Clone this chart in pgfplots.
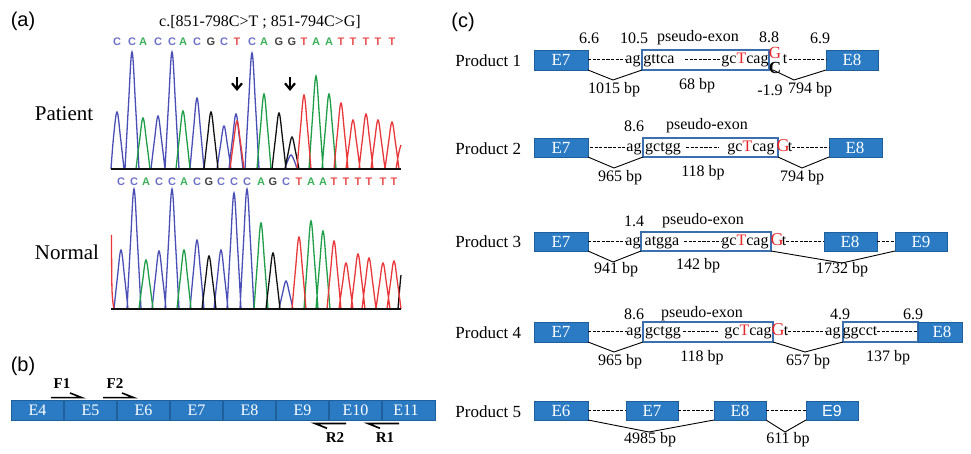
\documentclass[border=0pt]{standalone}
\usepackage{fontspec}
\setmainfont{Liberation Serif}
\newfontfamily\arial{Liberation Sans}
\usepackage{pgfplots}
\pgfplotsset{compat=1.18}
\usetikzlibrary{arrows.meta}
\definecolor{exblue}{HTML}{2B7BC4}
\definecolor{exedge}{HTML}{1F5F9C}
\definecolor{pbox}{HTML}{3C6FAE}
\definecolor{trC}{HTML}{4A4FB5}
\definecolor{trA}{HTML}{1E9E48}
\definecolor{trG}{HTML}{111111}
\definecolor{trT}{HTML}{E8383A}
\definecolor{ltC}{HTML}{6C70C8}
\definecolor{ltA}{HTML}{3CB05A}
\definecolor{ltG}{HTML}{444444}
\definecolor{ltT}{HTML}{E85050}
\definecolor{mutred}{HTML}{E8262A}
\newcommand\fs[1]{\fontsize{#1}{#1}\selectfont}
\newcommand\sq[2]{\node[font=\arial\fs{5.5}\bfseries, text=#2] at #1}

\begin{document}
\begin{tikzpicture}
\begin{axis}[
  scale only axis, width=485.5pt, height=224.5pt,
  xmin=0, xmax=971, ymin=0, ymax=449, y dir=reverse,
  hide axis, clip=false, unbounded coords=jump,
  exon/.style={fill=exblue, draw=exedge, line width=0.4pt},
  pseudo/.style={fill=white, draw=pbox, line width=0.6pt},
  dash/.style={black, line width=0.5pt, dash pattern=on 1.6pt off 0.7pt},
  vline/.style={black, line width=0.45pt},
  trace/.style={line width=0.65pt, smooth, tension=0.6},
]
\addplot[draw=none] coordinates {(0,0) (971,449)};

% ---------------- (a) chromatograms ----------------
\node[font=\arial\fs{10}] at (23,21) {(a)};
\node[font=\fs{8}] at (260,22) {c.[851-798C>T ; 851-794C>G]};
\node[font=\fs{10.5}] at (64,114) {Patient};
\node[font=\fs{10.5}] at (67,252) {Normal};

% patient, baseline y=169
\addplot[trace, trC] coordinates {
 (111,169) (113.5,137.6) (117,112) (120.5,137.6) (124,169) (0,nan)
 (125,169) (128.5,104.6) (132,52) (135.5,104.6) (139,169) (0,nan)
 (151,169) (154.5,139.8) (158,116) (161.5,139.8) (165,169) (0,nan)
 (165,169) (168.5,104.6) (172,52) (175.5,104.6) (179,169) (0,nan)
 (190,169) (193.5,130) (197,98) (200.5,130) (204,169) (0,nan)
 (217,169) (220.5,145.3) (224,126) (227.5,145.3) (231,169) (0,nan)
 (229,169) (232.5,138.7) (236,114) (239.5,138.7) (243,169) (0,nan)
 (245,169) (248.5,105.2) (252,53) (255.5,105.2) (259,169) (0,nan)
 (285,169) (287.5,161.3) (291,155) (294.5,161.3) (297,169)};
\addplot[trace, trA] coordinates {
 (136,169) (139.5,141) (143,118) (146.5,141) (150,169) (0,nan)
 (176,169) (179.5,137.1) (183,111) (186.5,137.1) (190,169) (0,nan)
 (257,169) (260.5,127.7) (264,94) (267.5,127.7) (271,169) (0,nan)
 (309,169) (312.5,117.8) (316,76) (319.5,117.8) (323,169) (0,nan)
 (322,169) (325.5,127.7) (329,94) (332.5,127.7) (336,169)};
\addplot[trace, trG] coordinates {
 (204,169) (207.5,137.6) (211,112) (214.5,137.6) (218,169) (0,nan)
 (272,169) (275.5,138.2) (279,113) (282.5,138.2) (286,169) (0,nan)
 (285,169) (288.5,151.4) (292,137) (295.5,151.4) (299,169)};
\addplot[trace, trT] coordinates {
 (230,169) (233.5,142.6) (237,121) (240.5,142.6) (244,169) (0,nan)
 (297,169) (300.5,128.3) (304,95) (307.5,128.3) (311,169) (0,nan)
 (334,169) (337.5,132.7) (341,103) (344.5,132.7) (348,169) (0,nan)
 (346,169) (349.5,142) (353,120) (356.5,142) (360,169) (0,nan)
 (359,169) (362.5,138.7) (366,114) (369.5,138.7) (373,169) (0,nan)
 (371,169) (374.5,142) (378,120) (381.5,142) (385,169) (0,nan)
 (385,169) (388.5,143.1) (392,122) (395.5,143.1) (399,169) (0,nan)
 (396,169) (399,152) (401,145)};
\addplot[trG, line width=1pt] coordinates {(111,169.5) (401,169.5)};

% normal, baseline y=309
\addplot[trace, trC] coordinates {
 (114,309) (117.5,276.5) (121,250) (124.5,276.5) (128,309) (0,nan)
 (127,309) (130.5,243) (134,189) (137.5,243) (141,309) (0,nan)
 (152,309) (155.5,277.1) (159,251) (162.5,277.1) (166,309) (0,nan)
 (165,309) (168.5,243) (172,189) (175.5,243) (179,309) (0,nan)
 (190,309) (193.5,271) (197,240) (200.5,271) (204,309) (0,nan)
 (214,309) (217.5,276.5) (221,250) (224.5,276.5) (228,309) (0,nan)
 (227,309) (230.5,245.2) (234,193) (237.5,245.2) (241,309) (0,nan)
 (240,309) (243.5,243) (247,189) (250.5,243) (254,309) (0,nan)
 (279,309) (282.5,293.6) (286,281) (289.5,293.6) (293,309)};
\addplot[trace, trA] coordinates {
 (139,309) (142.5,282) (146,260) (149.5,282) (153,309) (0,nan)
 (177,309) (180.5,276.5) (184,250) (187.5,276.5) (191,309) (0,nan)
 (254,309) (257.5,261.7) (261,223) (264.5,261.7) (268,309) (0,nan)
 (304,309) (307.5,260.6) (311,221) (314.5,260.6) (318,309) (0,nan)
 (316,309) (319.5,266.1) (323,231) (326.5,266.1) (330,309)};
\addplot[trace, trG] coordinates {
 (202,309) (205.5,279.8) (209,256) (212.5,279.8) (216,309) (0,nan)
 (266,309) (269.5,278.2) (273,253) (276.5,278.2) (280,309) (0,nan)
 (398,309) (400,285) (401,275)};
\addplot[trace, trT] coordinates {
 (111.5,235) (112,290) (114,309) (0,nan)
 (292,309) (295.5,269.4) (299,237) (302.5,269.4) (306,309) (0,nan)
 (327,309) (330.5,271.6) (334,241) (337.5,271.6) (341,309) (0,nan)
 (339,309) (342.5,283.7) (346,263) (349.5,283.7) (353,309) (0,nan)
 (351,309) (354.5,278.7) (358,254) (361.5,278.7) (365,309) (0,nan)
 (362,309) (365.5,281) (369,258) (372.5,281) (376,309) (0,nan)
 (376,309) (379.5,283.7) (383,263) (386.5,283.7) (390,309) (0,nan)
 (387,309) (390.5,282.6) (394,261) (397.5,282.6) (401,309)};
\addplot[trG, line width=1pt] coordinates {(111,309.5) (401,309.5)};

% arrows at the two variants
\addplot[-{Straight Barb[length=3pt,width=5pt]}, line width=1.1pt] coordinates {(237,77) (237,91)};
\addplot[-{Straight Barb[length=3pt,width=5pt]}, line width=1.1pt] coordinates {(290,77) (290,91)};

% base calls
\sq{(117,42)}{ltC}{C}; \sq{(132,42)}{ltC}{C}; \sq{(143,42)}{ltA}{A}; \sq{(158,42)}{ltC}{C};
\sq{(172,42)}{ltC}{C}; \sq{(183,42)}{ltA}{A}; \sq{(197,42)}{ltC}{C}; \sq{(211,42)}{ltG}{G};
\sq{(224,42)}{ltC}{C}; \sq{(237,42)}{ltT}{T}; \sq{(252,42)}{ltC}{C}; \sq{(264,42)}{ltA}{A};
\sq{(279,42)}{ltG}{G}; \sq{(292,42)}{ltG}{G}; \sq{(304,42)}{ltT}{T}; \sq{(316,42)}{ltA}{A};
\sq{(329,42)}{ltA}{A}; \sq{(341,42)}{ltT}{T}; \sq{(353,42)}{ltT}{T}; \sq{(366,42)}{ltT}{T};
\sq{(378,42)}{ltT}{T}; \sq{(392,42)}{ltT}{T};
\sq{(121,182)}{ltC}{C}; \sq{(134,182)}{ltC}{C}; \sq{(146,182)}{ltA}{A}; \sq{(159,182)}{ltC}{C};
\sq{(172,182)}{ltC}{C}; \sq{(184,182)}{ltA}{A}; \sq{(197,182)}{ltC}{C}; \sq{(209,182)}{ltG}{G};
\sq{(221,182)}{ltC}{C}; \sq{(234,182)}{ltC}{C}; \sq{(247,182)}{ltC}{C}; \sq{(261,182)}{ltA}{A};
\sq{(273,182)}{ltG}{G}; \sq{(286,182)}{ltC}{C}; \sq{(299,182)}{ltT}{T}; \sq{(311,182)}{ltA}{A};
\sq{(323,182)}{ltA}{A}; \sq{(334,182)}{ltT}{T}; \sq{(346,182)}{ltT}{T}; \sq{(358,182)}{ltT}{T};
\sq{(369,182)}{ltT}{T}; \sq{(383,182)}{ltT}{T}; \sq{(394,182)}{ltT}{T};

% ---------------- (b) exon map ----------------
\node[font=\arial\fs{10}] at (23,366) {(b)};
\addplot[exon] coordinates {(11,400) (435,400) (435,420) (11,420)} -- cycle;
\addplot[exedge, line width=0.6pt] coordinates {
 (64,400) (64,420) (0,nan) (117,400) (117,420) (0,nan) (170,400) (170,420) (0,nan)
 (223,400) (223,420) (0,nan) (276,400) (276,420) (0,nan) (329,400) (329,420) (0,nan)
 (382,400) (382,420)};
\node[font=\fs{8}, text=white] at (37.5,410.5) {E4};
\node[font=\fs{8}, text=white] at (90.5,410.5) {E5};
\node[font=\fs{8}, text=white] at (143.5,410.5) {E6};
\node[font=\fs{8}, text=white] at (196.5,410.5) {E7};
\node[font=\fs{8}, text=white] at (249.5,410.5) {E8};
\node[font=\fs{8}, text=white] at (302.5,410.5) {E9};
\node[font=\fs{8}, text=white] at (355.5,410.5) {E10};
\node[font=\fs{8}, text=white] at (406,410.5) {E11};
\addplot[black, line width=0.8pt] coordinates {(51,397.7) (82,397.7) (70,393)};
\addplot[black, line width=0.8pt] coordinates {(103,397.7) (134,397.7) (122,393)};
\addplot[black, line width=0.8pt] coordinates {(346,423.5) (315,423.5) (327,428.3)};
\addplot[black, line width=0.8pt] coordinates {(399,423.5) (368,423.5) (380,428.3)};
\node[font=\fs{7.5}\bfseries] at (62,384) {F1};
\node[font=\fs{7.5}\bfseries] at (115,384) {F2};
\node[font=\fs{7.5}\bfseries] at (335,438) {R2};
\node[font=\fs{7.5}\bfseries] at (385,438) {R1};

% ---------------- (c) products ----------------
\node[font=\arial\fs{10}] at (463,22) {(c)};
\node[font=\fs{8.5}, anchor=west, inner sep=0pt] at (455,61) {Product 1};
\node[font=\fs{8.5}, anchor=west, inner sep=0pt] at (455,149) {Product 2};
\node[font=\fs{8.5}, anchor=west, inner sep=0pt] at (455,242) {Product 3};
\node[font=\fs{8.5}, anchor=west, inner sep=0pt] at (455,333) {Product 4};
\node[font=\fs{8.5}, anchor=west, inner sep=0pt] at (455,412) {Product 5};

% Product 1 (top 50)
\addplot[exon] coordinates {(534,50) (588,50) (588,70) (534,70)} -- cycle;
\addplot[pseudo] coordinates {(642,50) (769,50) (769,70) (642,70)} -- cycle;
\addplot[exon] coordinates {(826,50) (878,50) (878,70) (826,70)} -- cycle;
\addplot[dash] coordinates {(588,60) (626,60) (0,nan) (685,60) (721,60) (0,nan) (789,60) (826,60)};
\addplot[vline] coordinates {(588,70) (613,80) (642,70)};
\addplot[vline] coordinates {(773,70) (794,80) (826,70)};
\node[font=\fs{8.5}, text=white] at (561,60) {E7};
\node[font=\fs{8.5}, text=white] at (852,60) {E8};
\node[font=\fs{8}, anchor=base] at (633,64) {ag};
\node[font=\fs{8}, anchor=base] at (659,64) {gttca};
\node[font=\fs{8}, anchor=base] at (745,64) {gc{\color{mutred}T}cag};
\node[font=\fs{8.5}, text=mutred, inner sep=0pt] at (775,53) {G};
\node[font=\fs{8.5}\bfseries, inner sep=0pt] at (775,68) {C};
\node[font=\fs{8}, anchor=base] at (785,64) {t};
\node[font=\fs{8}] at (589,38) {6.6};
\node[font=\fs{8}] at (634,38) {10.5};
\node[font=\fs{8}] at (698,38) {pseudo-exon};
\node[font=\fs{8}] at (769,37) {8.8};
\node[font=\fs{8}] at (820,38) {6.9};
\node[font=\fs{8}] at (614,90) {1015 bp};
\node[font=\fs{8}] at (697,86) {68 bp};
\node[font=\fs{8}] at (770,90) {-1.9};
\node[font=\fs{8}] at (810,90) {794 bp};

% Product 2 (top 138)
\addplot[exon] coordinates {(534,138) (588,138) (588,157) (534,157)} -- cycle;
\addplot[pseudo] coordinates {(643,138) (778,138) (778,157) (643,157)} -- cycle;
\addplot[exon] coordinates {(829,138) (882,138) (882,157) (829,157)} -- cycle;
\addplot[dash] coordinates {(590,148) (627,148) (0,nan) (686,148) (719,148) (0,nan) (792,148) (829,148)};
\addplot[vline] coordinates {(588,157) (614,168) (643,157)};
\addplot[vline] coordinates {(778,157) (802,168) (829,157)};
\node[font=\fs{8.5}, text=white] at (561,147.5) {E7};
\node[font=\fs{8.5}, text=white] at (855,147.5) {E8};
\node[font=\fs{8}, anchor=base] at (634,152) {ag};
\node[font=\fs{8}, anchor=base] at (663,152) {gctgg};
\node[font=\fs{8}, anchor=base] at (751,152) {gc{\color{mutred}T}cag};
\node[font=\fs{9}, anchor=base, text=mutred] at (783,152) {G};
\node[font=\fs{8}, anchor=base] at (790,152) {t};
\node[font=\fs{8}] at (634,126) {8.6};
\node[font=\fs{8}] at (707,126) {pseudo-exon};
\node[font=\fs{8}] at (620,178) {965 bp};
\node[font=\fs{8}] at (703,173) {118 bp};
\node[font=\fs{8}] at (802,178) {794 bp};

% Product 3 (top 232)
\addplot[exon] coordinates {(534,232) (588,232) (588,251) (534,251)} -- cycle;
\addplot[pseudo] coordinates {(641,232) (771,232) (771,251) (641,251)} -- cycle;
\addplot[exon] coordinates {(824,232) (877,232) (877,251) (824,251)} -- cycle;
\addplot[exon] coordinates {(895,232) (947,232) (947,251) (895,251)} -- cycle;
\addplot[dash] coordinates {(588,242) (626,242) (0,nan) (684,242) (722,242) (0,nan) (786,242) (824,242) (0,nan) (877,242) (895,242)};
\addplot[vline] coordinates {(588,251) (613,262) (641,251)};
\addplot[vline] coordinates {(771,251) (842,263) (895,251)};
\node[font=\fs{8.5}, text=white] at (561,241.5) {E7};
\node[font=\fs{8.5}, text=white] at (850,241.5) {E8};
\node[font=\fs{8.5}, text=white] at (921,241.5) {E9};
\node[font=\fs{8}, anchor=base] at (633,246) {ag};
\node[font=\fs{8}, anchor=base] at (662,246) {atgga};
\node[font=\fs{8}, anchor=base] at (745,246) {gc{\color{mutred}T}cag};
\node[font=\fs{9}, anchor=base, text=mutred] at (777,246) {G};
\node[font=\fs{8}, anchor=base] at (784,246) {t};
\node[font=\fs{8}] at (634,221) {1.4};
\node[font=\fs{8}] at (703,221) {pseudo-exon};
\node[font=\fs{8}] at (616,270) {941 bp};
\node[font=\fs{8}] at (698,266) {142 bp};
\node[font=\fs{8}] at (842,270) {1732 bp};

% Product 4 (top 322)
\addplot[exon] coordinates {(534,322) (588,322) (588,342) (534,342)} -- cycle;
\addplot[pseudo] coordinates {(643,322) (773,322) (773,342) (643,342)} -- cycle;
\addplot[pseudo] coordinates {(843,322) (918,322) (918,342) (843,342)} -- cycle;
\addplot[exon] coordinates {(918,322) (962,322) (962,342) (918,342)} -- cycle;
\addplot[dash] coordinates {(588,332) (627,332) (0,nan) (683,332) (719,332) (0,nan) (788,332) (826,332) (0,nan) (877,332) (917,332)};
\addplot[vline] coordinates {(588,342) (614,352) (643,342)};
\addplot[vline] coordinates {(773,342) (805,352) (843,342)};
\node[font=\fs{8.5}, text=white] at (561,332) {E7};
\node[font=\fs{8.5}, text=white] at (942,332) {E8};
\node[font=\fs{8}, anchor=base] at (634,336) {ag};
\node[font=\fs{8}, anchor=base] at (663,336) {gctgg};
\node[font=\fs{8}, anchor=base] at (748,336) {gc{\color{mutred}T}cag};
\node[font=\fs{9}, anchor=base, text=mutred] at (778,336) {G};
\node[font=\fs{8}, anchor=base] at (786,336) {t};
\node[font=\fs{8}, anchor=base] at (833,336) {ag};
\node[font=\fs{8}, anchor=base] at (860,336) {ggcct};
\node[font=\fs{8}] at (634,314) {8.6};
\node[font=\fs{8}] at (702,314) {pseudo-exon};
\node[font=\fs{8}] at (840,314) {4.9};
\node[font=\fs{8}] at (913,314) {6.9};
\node[font=\fs{8}] at (620,362) {965 bp};
\node[font=\fs{8}] at (702,358) {118 bp};
\node[font=\fs{8}] at (808,362) {657 bp};
\node[font=\fs{8}] at (888,358) {137 bp};

% Product 5 (top 401)
\addplot[exon] coordinates {(534,401) (588,401) (588,420) (534,420)} -- cycle;
\addplot[exon] coordinates {(626,401) (678,401) (678,420) (626,420)} -- cycle;
\addplot[exon] coordinates {(714,401) (766,401) (766,420) (714,420)} -- cycle;
\addplot[exon] coordinates {(806,401) (858,401) (858,420) (806,420)} -- cycle;
\addplot[dash] coordinates {(588,411) (626,411) (0,nan) (678,411) (714,411) (0,nan) (766,411) (806,411)};
\addplot[vline] coordinates {(588,420) (649,432) (714,420)};
\addplot[vline] coordinates {(766,420) (785,432) (806,420)};
\node[font=\fs{8.5}, text=white] at (561,410.5) {E6};
\node[font=\fs{8.5}, text=white] at (652,410.5) {E7};
\node[font=\fs{8.5}, text=white] at (740,410.5) {E8};
\node[font=\arial\fs{8}, text=white] at (832,410.5) {E9};
\node[font=\fs{8}] at (650,440) {4985 bp};
\node[font=\fs{8}] at (788,440) {611 bp};
\end{axis}
\end{tikzpicture}
\end{document}
